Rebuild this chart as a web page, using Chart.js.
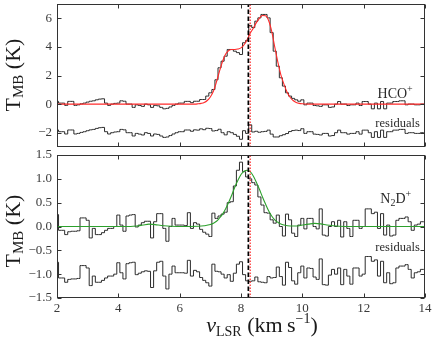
<!DOCTYPE html>
<html>
<head>
<meta charset="utf-8">
<title>HCO+ and N2D+ spectra</title>
<script src="https://cdn.jsdelivr.net/npm/chart.js@4.4.1/dist/chart.umd.min.js"></script>
<style>
html,body{margin:0;padding:0;background:#ffffff;overflow:hidden;}
#wrap{position:relative;width:436px;height:354px;background:#fff;}
#wrap canvas{position:absolute;left:0;}
</style>
</head>
<body>
<div id="wrap">
<canvas id="topPanel" width="436" height="150" style="top:0;width:436px;height:150px;"></canvas>
<canvas id="bottomPanel" width="436" height="204" style="top:150px;width:436px;height:204px;"></canvas>
</div>
<script>
// ---------------- data ----------------
const channels = [
 2.0,2.1,2.2,2.3,2.4,2.5,2.6,2.7,2.8,2.9,
 3.0,3.1,3.2,3.3,3.4,3.5,3.6,3.7,3.8,3.9,
 4.0,4.1,4.2,4.3,4.4,4.5,4.6,4.7,4.8,4.9,
 5.0,5.1,5.2,5.3,5.4,5.5,5.6,5.7,5.8,5.9,
 6.0,6.1,6.2,6.3,6.4,6.5,6.6,6.7,6.8,6.9,
 7.0,7.1,7.2,7.3,7.4,7.5,7.6,7.7,7.8,7.9,
 8.0,8.1,8.2,8.3,8.4,8.5,8.6,8.7,8.8,8.9,
 9.0,9.1,9.2,9.3,9.4,9.5,9.6,9.7,9.8,9.9,
 10.0,10.1,10.2,10.3,10.4,10.5,10.6,10.7,10.8,10.9,
 11.0,11.1,11.2,11.3,11.4,11.5,11.6,11.7,11.8,11.9,
 12.0,12.1,12.2,12.3,12.4,12.5,12.6,12.7,12.8,12.9,
 13.0,13.1,13.2,13.3,13.4,13.5,13.6,13.7,13.8,13.9,
 14.0];

const hcoData = [
 0.19,0.07,0.07,-0.09,0.19,0.19,-0.09,-0.05,0.02,0.07,
 0.14,0.20,0.23,0.30,0.35,0.37,0.07,-0.09,0.00,0.05,
 0.07,0.23,0.20,0.00,0.00,-0.23,-0.05,-0.10,-0.16,0.00,
 -0.05,-0.23,-0.09,-0.12,-0.23,-0.33,-0.30,-0.20,-0.09,0.00,
 0.07,0.07,0.19,0.19,0.10,0.20,0.20,0.32,0.32,0.56,
 0.79,1.02,1.70,2.54,3.00,3.35,3.82,3.82,3.70,3.60,
 3.47,4.29,4.45,5.50,5.35,5.80,6.03,6.27,6.27,6.03,
 5.00,3.70,2.65,1.84,1.26,0.79,0.56,0.40,0.30,0.20,
 0.30,-0.05,0.07,0.07,-0.10,-0.12,-0.16,-0.05,-0.05,-0.23,
 -0.20,0.00,0.18,0.00,0.00,-0.10,-0.05,-0.05,0.07,-0.10,
 0.18,0.18,0.00,-0.33,0.07,-0.33,0.18,-0.33,0.07,0.07,
 0.18,0.18,0.23,0.23,-0.05,0.00,0.00,-0.05,-0.05,0.00,
 0.00];

const hcoResid = [
 -1.81,-1.93,-1.93,-2.09,-1.81,-1.81,-2.09,-2.05,-1.98,-1.93,
 -1.86,-1.80,-1.77,-1.70,-1.65,-1.63,-1.93,-2.09,-2.00,-1.95,
 -1.93,-1.77,-1.80,-2.00,-2.00,-2.23,-2.05,-2.10,-2.16,-2.00,
 -2.05,-2.23,-2.09,-2.12,-2.23,-2.33,-2.30,-2.20,-2.09,-2.00,
 -1.93,-1.93,-1.81,-1.81,-1.90,-1.80,-1.82,-1.73,-1.79,-1.69,
 -1.71,-1.88,-1.85,-1.76,-2.00,-2.15,-1.93,-2.00,-2.12,-2.25,
 -2.46,-1.86,-2.05,-1.45,-1.95,-1.90,-1.97,-1.93,-1.91,-1.82,
 -2.10,-2.30,-2.30,-2.21,-2.14,-2.06,-1.92,-1.85,-1.82,-1.85,
 -1.72,-2.05,-1.93,-1.93,-2.10,-2.12,-2.16,-2.05,-2.05,-2.23,
 -2.20,-2.00,-1.82,-2.00,-2.00,-2.10,-2.05,-2.05,-1.93,-2.10,
 -1.82,-1.82,-2.00,-2.33,-1.93,-2.33,-1.82,-2.33,-1.93,-1.93,
 -1.82,-1.82,-1.77,-1.77,-2.05,-2.00,-2.00,-2.05,-2.05,-2.00,
 -2.00];

const hcoFitV = [2.0,6.5,6.6,6.7,6.8,6.9,7.0,7.1,7.2,7.3,7.4,7.5,7.6,7.7,7.8,7.9,8.0,8.1,8.2,8.3,8.4,8.5,8.6,8.7,8.8,8.9,9.0,9.1,9.2,9.3,9.4,9.5,9.6,9.7,9.8,9.9,10.0,10.2,14.0];
const hcoFitT = [0,0,0.02,0.05,0.11,0.25,0.5,0.9,1.55,2.3,3.0,3.5,3.75,3.82,3.82,3.85,3.93,4.15,4.5,4.95,5.3,5.7,6.0,6.2,6.18,5.85,5.1,4.0,2.95,2.05,1.4,0.85,0.48,0.25,0.12,0.05,0.02,0,0];

const n2dData = [
 0.25,-0.08,-0.08,-0.17,-0.11,-0.10,-0.10,-0.09,0.18,0.18,
 0.13,-0.24,-0.04,-0.17,-0.17,-0.13,-0.08,-0.04,-0.04,0.00,
 0.24,0.03,-0.10,0.22,0.24,0.25,-0.01,0.03,0.08,0.11,
 0.11,-0.24,0.10,0.27,0.27,-0.04,-0.31,0.00,0.17,0.03,
 0.03,0.03,0.02,0.29,-0.04,0.08,0.05,-0.06,-0.12,-0.16,
 -0.21,0.28,0.17,0.22,0.26,0.30,0.50,0.52,0.85,1.18,
 1.35,1.15,1.04,1.00,0.92,0.87,0.62,0.45,0.29,0.28,
 0.14,0.07,0.24,0.00,-0.20,0.26,0.14,-0.14,-0.21,0.03,
 0.17,-0.05,0.17,0.17,0.00,-0.05,0.37,-0.18,-0.20,0.00,
 0.10,0.00,0.13,-0.22,0.10,-0.04,-0.21,0.13,0.13,-0.04,
 0.00,0.37,0.37,0.27,0.30,-0.04,0.27,-0.18,0.03,-0.20,
 -0.18,0.13,0.17,0.17,0.20,0.10,-0.08,0.03,0.05,0.10,
 0.10];

const n2dResid = [
 -0.75,-1.08,-1.08,-1.17,-1.11,-1.10,-1.10,-1.09,-0.82,-0.82,
 -0.87,-1.24,-1.04,-1.17,-1.17,-1.13,-1.08,-1.04,-1.04,-1.00,
 -0.76,-0.97,-1.10,-0.78,-0.76,-0.75,-1.01,-0.98,-0.95,-0.93,
 -0.94,-1.28,-0.93,-0.75,-0.73,-1.04,-1.31,-1.00,-0.83,-0.97,
 -0.97,-0.97,-0.98,-0.71,-1.04,-0.92,-0.95,-1.07,-1.13,-1.18,
 -1.25,-0.79,-0.94,-0.95,-1.00,-1.08,-1.01,-1.15,-0.98,-0.79,
 -0.74,-1.01,-1.14,-1.15,-1.14,-1.06,-1.16,-1.17,-1.18,-1.05,
 -1.08,-1.07,-0.85,-1.05,-1.23,-0.75,-0.86,-1.14,-1.21,-0.97,
 -0.83,-1.08,-0.87,-0.88,-1.06,-1.11,-0.68,-1.22,-1.23,-1.02,
 -0.90,-1.00,-0.87,-1.22,-0.90,-1.04,-1.21,-0.87,-0.87,-1.04,
 -1.00,-0.63,-0.63,-0.73,-0.70,-1.04,-0.73,-1.18,-0.97,-1.20,
 -1.18,-0.87,-0.83,-0.83,-0.80,-0.90,-1.08,-0.97,-0.95,-0.90,
 -0.90];

const n2dFitV = [2.0,4.4,4.6,4.8,5.0,5.2,5.4,5.6,6.0,6.6,6.8,7.0,7.1,7.2,7.3,7.4,7.5,7.6,7.7,7.8,7.9,8.0,8.1,8.2,8.3,8.4,8.5,8.6,8.7,8.8,8.9,9.0,9.1,9.2,9.3,9.4,9.6,9.8,10.0,10.2,10.4,10.6,10.8,11.0,11.2,11.6,14.0];
const n2dFitT = [0,0,0.01,0.03,0.05,0.04,0.02,0.01,0,0.005,0.015,0.04,0.07,0.11,0.18,0.26,0.37,0.51,0.66,0.83,0.97,1.09,1.16,1.18,1.15,1.06,0.93,0.78,0.62,0.47,0.33,0.22,0.14,0.09,0.05,0.03,0.01,0.01,0.03,0.05,0.065,0.055,0.03,0.015,0.005,0,0];

const vDashed = 8.24;   // black dashed reference velocity
const vDotted = 8.30;   // red dotted reference velocity
const xTickValues = [2,4,6,8,10,12,14];
const hcoTickValues = [-2,0,2,4,6];
const n2dTickValues = [-1.5,-1.0,-0.5,0.0,0.5,1.0,1.5];

// ---------------- helpers ----------------
const FONT = '"Liberation Serif","Times New Roman",serif';
const pts = (xs, ys) => xs.map((x, i) => ({x: x, y: ys[i]}));
const minus = s => s.replace('-', '\u2212');

function vline(v, lo, hi, color, dash, width) {
  return {data: [{x: v, y: lo}, {x: v, y: hi}], borderColor: color, borderDash: dash,
          borderWidth: width, pointRadius: 0, fill: false};
}

function richWidth(ctx, parts) {
  let w = 0;
  for (const p of parts) {
    ctx.font = (p.it ? 'italic ' : '') + p.size + 'px ' + FONT;
    w += ctx.measureText(p.t).width;
  }
  return w;
}
function drawRich(ctx, parts, x, y, align) {
  const w = richWidth(ctx, parts);
  let cx = align === 'right' ? x - w : (align === 'center' ? x - w / 2 : x);
  ctx.textAlign = 'left';
  ctx.textBaseline = 'alphabetic';
  for (const p of parts) {
    ctx.font = (p.it ? 'italic ' : '') + p.size + 'px ' + FONT;
    ctx.fillText(p.t, cx, y + (p.dy || 0));
    cx += ctx.measureText(p.t).width;
  }
}
const yTitleParts = [{t: 'T', size: 22}, {t: 'MB', size: 15, dy: 3}, {t: ' (K)', size: 22}];

const framePlugin = {
  id: 'frameTicks',
  afterDatasetsDraw(chart) {
    const ctx = chart.ctx, a = chart.chartArea, sx = chart.scales.x, sy = chart.scales.y;
    ctx.save();
    ctx.strokeStyle = '#333';
    ctx.lineWidth = 1;
    const L = Math.round(a.left) + 0.5, R = Math.round(a.right) - 0.5;
    const T = Math.round(a.top) + 0.5, B = Math.round(a.bottom) - 0.5;
    ctx.strokeRect(L, T, R - L, B - T);
    ctx.beginPath();
    sx.ticks.forEach(t => {
      const px = Math.round(sx.getPixelForValue(t.value)) + 0.5;
      ctx.moveTo(px, B); ctx.lineTo(px, B - 4);
      ctx.moveTo(px, T); ctx.lineTo(px, T + 4);
    });
    sy.ticks.forEach(t => {
      const py = Math.round(sy.getPixelForValue(t.value)) + 0.5;
      ctx.moveTo(L, py); ctx.lineTo(L + 4, py);
      ctx.moveTo(R, py); ctx.lineTo(R - 4, py);
    });
    ctx.stroke();
    ctx.restore();
  }
};

function makeOptions(cfg) {
  return {
    responsive: false, animation: false, events: [],
    devicePixelRatio: 1,
    elements: {point: {radius: 0}, line: {fill: false, tension: 0}},
    layout: {padding: cfg.padding},
    plugins: {legend: {display: false}, tooltip: {enabled: false}, title: {display: false}},
    scales: {
      x: {
        type: 'linear', min: 2, max: 14,
        ticks: {display: cfg.showX, font: {family: FONT, size: 13}, color: '#3a3a3a',
                padding: 3, maxRotation: 0, autoSkip: false},
        grid: {display: false, drawTicks: false}, border: {display: false},
        afterBuildTicks: s => { s.ticks = xTickValues.map(v => ({value: v})); },
        afterFit: s => { s.height = cfg.xHeight; s.paddingLeft = 0; s.paddingRight = 0; s.paddingTop = 0; s.paddingBottom = 0; }
      },
      y: {
        type: 'linear', min: cfg.yMin, max: cfg.yMax,
        ticks: {font: {family: FONT, size: 13}, color: '#3a3a3a', padding: 5, autoSkip: false,
                callback: cfg.fmt},
        grid: {display: false, drawTicks: false}, border: {display: false},
        afterBuildTicks: s => { s.ticks = cfg.yTicks.map(v => ({value: v})); },
        afterFit: s => { s.width = 57; s.paddingLeft = 0; s.paddingRight = 0; s.paddingTop = 0; s.paddingBottom = 0; }
      }
    }
  };
}

// ---------------- top panel: HCO+ ----------------
const topLabels = {
  id: 'topLabels',
  afterDraw(chart) {
    const ctx = chart.ctx, sx = chart.scales.x, sy = chart.scales.y;
    ctx.save();
    ctx.fillStyle = '#2a2a2a';
    drawRich(ctx, [{t: 'HCO', size: 14}, {t: '+', size: 10, dy: -6}],
             sx.getPixelForValue(13.6), sy.getPixelForValue(0.42), 'right');
    drawRich(ctx, [{t: 'residuals', size: 12.5}],
             sx.getPixelForValue(13.83), sy.getPixelForValue(-1.6), 'right');
    ctx.fillStyle = '#1a1a1a';
    ctx.translate(20, 75);
    ctx.rotate(-Math.PI / 2);
    drawRich(ctx, yTitleParts, 0, 0, 'center');
    ctx.restore();
  }
};

new Chart(document.getElementById('topPanel'), {
  type: 'line',
  data: {datasets: [
    vline(vDashed, -3, 7, '#000000', [4.5, 2.5], 1.7),
    vline(vDotted, -3, 7, '#ff2a2a', [1.4, 1.6], 1.2),
    {data: pts(hcoFitV, hcoFitT), borderColor: '#ff2a2a', borderWidth: 1.1, cubicInterpolationMode: 'monotone'},
    {data: pts(channels, hcoData), borderColor: '#2b2b2b', borderWidth: 1, stepped: 'middle'},
    {data: pts(channels, hcoResid), borderColor: '#2b2b2b', borderWidth: 1, stepped: 'middle'}
  ]},
  options: makeOptions({
    padding: {left: 0, right: 11, top: 4, bottom: 3}, showX: false, xHeight: 0,
    yMin: -3, yMax: 7, yTicks: hcoTickValues,
    fmt: v => minus(String(v))
  }),
  plugins: [framePlugin, topLabels]
});

// ---------------- bottom panel: N2D+ ----------------
const bottomLabels = {
  id: 'bottomLabels',
  afterDraw(chart) {
    const ctx = chart.ctx, sx = chart.scales.x, sy = chart.scales.y;
    ctx.save();
    ctx.fillStyle = '#2a2a2a';
    drawRich(ctx, [{t: 'N', size: 14}, {t: '2', size: 10, dy: 3}, {t: 'D', size: 14}, {t: '+', size: 10, dy: -6}],
             sx.getPixelForValue(13.55), sy.getPixelForValue(0.5), 'right');
    drawRich(ctx, [{t: 'residuals', size: 12.5}],
             sx.getPixelForValue(13.83), sy.getPixelForValue(-0.52), 'right');
    ctx.fillStyle = '#1a1a1a';
    drawRich(ctx, [{t: 'v', size: 22, it: true}, {t: 'LSR', size: 14, dy: 4},
                   {t: ' (km\u2009s', size: 22}, {t: '\u22121', size: 14, dy: -9}, {t: ')', size: 22}],
             262, 182, 'center');
    ctx.translate(20, 81);
    ctx.rotate(-Math.PI / 2);
    drawRich(ctx, yTitleParts, 0, 0, 'center');
    ctx.restore();
  }
};

new Chart(document.getElementById('bottomPanel'), {
  type: 'line',
  data: {datasets: [
    vline(vDashed, -1.5, 1.5, '#000000', [4.5, 2.5], 1.7),
    vline(vDotted, -1.5, 1.5, '#ff2a2a', [1.4, 1.6], 1.2),
    {data: pts(n2dFitV, n2dFitT), borderColor: '#2ca02c', borderWidth: 1.1, cubicInterpolationMode: 'monotone'},
    {data: pts(channels, n2dData), borderColor: '#2b2b2b', borderWidth: 1, stepped: 'middle'},
    {data: pts(channels, n2dResid), borderColor: '#2b2b2b', borderWidth: 1, stepped: 'middle'}
  ]},
  options: makeOptions({
    padding: {left: 0, right: 11, top: 5, bottom: 0}, showX: true, xHeight: 56,
    yMin: -1.5, yMax: 1.5, yTicks: n2dTickValues,
    fmt: v => minus(Number(v).toFixed(1))
  }),
  plugins: [framePlugin, bottomLabels]
});
</script>
</body>
</html>
